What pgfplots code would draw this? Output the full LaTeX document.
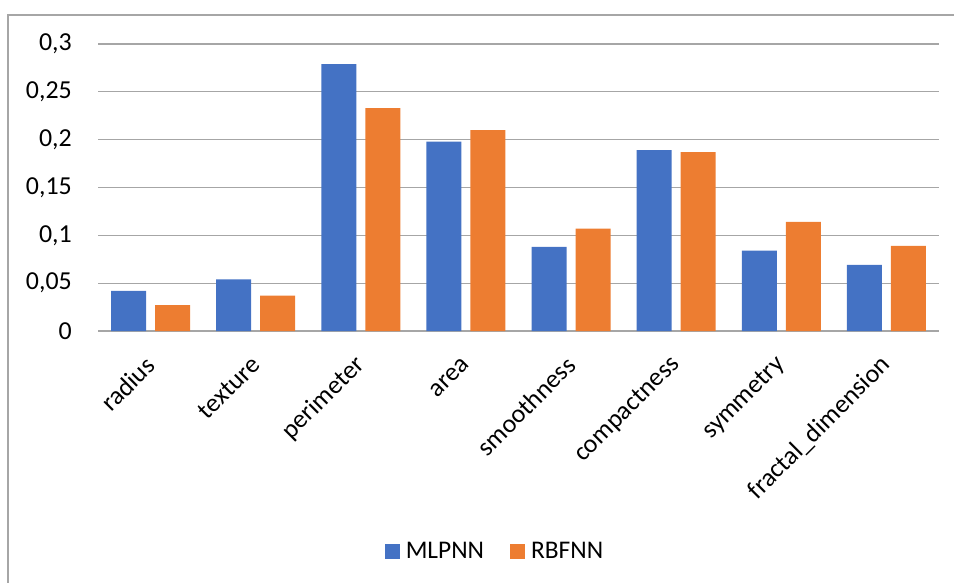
\documentclass[border=0pt]{standalone}
\usepackage{fontspec}
\setmainfont{Carlito}
\usepackage{pgfplots}
\pgfplotsset{compat=1.18}
\definecolor{xlblue}{HTML}{4472C4}
\definecolor{xlorange}{HTML}{ED7D31}
\definecolor{xlgrid}{HTML}{A6A6A6}
\begin{document}
\begin{tikzpicture}[x=1bp,y=1bp]
\useasboundingbox (0,0) rectangle (954,-583);
\draw[xlgrid, line width=2bp] (8,-583) -- (8,-15) -- (954,-15);
\begin{axis}[
  at={(98bp,-331bp)}, anchor=south west,
  width=841bp, height=287bp, scale only axis,
  ybar=9bp, bar width=35bp,
  ymin=0, ymax=0.3,
  ytick={0,0.05,0.1,0.15,0.2,0.25,0.3},
  xmin=-0.5, xmax=7.5,
  xtick={0,1,2,3,4,5,6,7},
  xticklabels={radius,texture,perimeter,area,smoothness,compactness,symmetry,fractal\_dimension},
  axis line style={draw=none},
  major tick length=0pt,
  ymajorgrids, grid style={xlgrid, line width=1.3bp},
  /pgf/number format/fixed,
  /pgf/number format/use comma,
  /pgf/number format/assume math mode=true,
  tick label style={font=\fontsize{26}{30}\selectfont},
  yticklabel style={inner sep=0pt, xshift=-26bp},
  xticklabel style={yshift=-30bp, rotate=45, anchor=east, inner sep=0pt},
  legend style={at={(0.472,-0.767)}, anchor=center, draw=none,
    font=\fontsize{25.5}{30}\selectfont, legend columns=2,
    /tikz/every even column/.append style={column sep=24bp}},
]
\addplot[fill=xlblue, draw=none,
  legend image code/.code={\fill[xlblue] (0bp,-7.5bp) rectangle (15bp,7.5bp); \path (19bp,0bp);}]
  coordinates {(0,0.042) (1,0.054) (2,0.279) (3,0.198) (4,0.088) (5,0.189) (6,0.084) (7,0.069)};
\addlegendentry{MLPNN}
\addplot[fill=xlorange, draw=none,
  legend image code/.code={\fill[xlorange] (0bp,-7.5bp) rectangle (15bp,7.5bp); \path (19bp,0bp);}]
  coordinates {(0,0.027) (1,0.037) (2,0.233) (3,0.210) (4,0.107) (5,0.187) (6,0.114) (7,0.089)};
\addlegendentry{RBFNN}
\end{axis}
\end{tikzpicture}
\end{document}
